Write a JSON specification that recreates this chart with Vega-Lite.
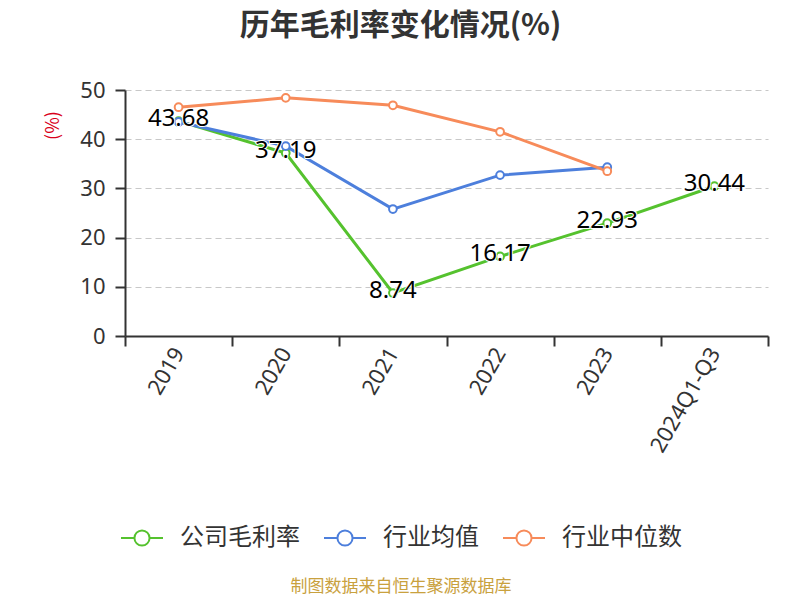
{
  "$schema": "https://vega.github.io/schema/vega-lite/v6.json",
  "width": 643,
  "height": 246,
  "autosize": {"type": "none"},
  "padding": {"left": 125, "top": 90, "right": 32, "bottom": 264},
  "background": "white",
  "title": {"text": "历年毛利率变化情况(%)", "fontSize": 30, "fontWeight": "bold", "color": "#333333", "font": "Noto Sans CJK SC", "anchor": "middle", "dx": -46, "offset": 38},
  "config": {"view": {"stroke": null}, "font": "Noto Sans CJK SC"},
  "data": {"values": [
    {"year": "2019", "series": "公司毛利率", "value": 43.68},
    {"year": "2020", "series": "公司毛利率", "value": 37.19},
    {"year": "2021", "series": "公司毛利率", "value": 8.74},
    {"year": "2022", "series": "公司毛利率", "value": 16.17},
    {"year": "2023", "series": "公司毛利率", "value": 22.93},
    {"year": "2024Q1-Q3", "series": "公司毛利率", "value": 30.44},
    {"year": "2019", "series": "行业均值", "value": 43.5},
    {"year": "2020", "series": "行业均值", "value": 38.6},
    {"year": "2021", "series": "行业均值", "value": 25.8},
    {"year": "2022", "series": "行业均值", "value": 32.7},
    {"year": "2023", "series": "行业均值", "value": 34.3},
    {"year": "2019", "series": "行业中位数", "value": 46.5},
    {"year": "2020", "series": "行业中位数", "value": 48.4},
    {"year": "2021", "series": "行业中位数", "value": 46.9},
    {"year": "2022", "series": "行业中位数", "value": 41.5},
    {"year": "2023", "series": "行业中位数", "value": 33.5}
  ]},
  "encoding": {
    "x": {
      "field": "year", "type": "ordinal", "sort": null, "bandPosition": 0.5,
      "scale": {"type": "band", "paddingInner": 0, "paddingOuter": 0},
      "axis": {"title": null, "labelAngle": -60, "labelFontSize": 22, "labelColor": "#333333", "labelFont": "Noto Sans", "tickBand": "extent", "tickSize": 10, "tickColor": "#333333", "tickWidth": 2, "domainColor": "#333333", "domainWidth": 2, "labelPadding": 3, "grid": false}
    },
    "y": {
      "field": "value", "type": "quantitative",
      "scale": {"domain": [0, 50], "nice": false},
      "axis": {"title": "(%)", "titleColor": "#d9001b", "titleFontSize": 18, "titleFontWeight": "normal", "titleX": -63, "titleY": 35, "titleAlign": "center", "values": [0, 10, 20, 30, 40, 50], "labelFontSize": 22, "labelColor": "#333333", "labelFont": "Noto Sans", "labelPadding": 10, "tickSize": 10, "tickColor": "#333333", "tickWidth": 2, "domainColor": "#333333", "domainWidth": 2, "gridColor": "#c8c8c8", "gridDash": [6, 4], "gridWidth": 1.2}
    }
  },
  "layer": [
    {
      "mark": {"type": "line", "strokeWidth": 3},
      "encoding": {
        "color": {
          "field": "series", "type": "nominal",
          "scale": {"domain": ["公司毛利率", "行业均值", "行业中位数"], "range": ["#55c22e", "#4d7fdc", "#f78b5a"]},
          "legend": {
            "orient": "none", "legendX": -5, "legendY": 426, "direction": "horizontal",
            "title": "制图数据来自恒生聚源数据库", "titleOrient": "bottom", "titleAnchor": "middle", "titleFontSize": 17, "titleFontWeight": "normal", "titleColor": "#c9a13e", "titlePadding": 29, "titleLimit": 600,
            "labelFontSize": 24, "labelColor": "#333333", "labelOffset": 16, "columnPadding": 20, "labelLimit": 300,
            "symbolType": "M-1,0L-0.36,0M0.36,0L1,0M0.36,0A0.36,0.36,0,1,1,-0.36,0A0.36,0.36,0,1,1,0.36,0Z",
            "symbolSize": 1764, "symbolStrokeWidth": 2, "symbolFillColor": "white"
          }
        }
      }
    },
    {
      "mark": {"type": "point", "filled": true, "fill": "white", "size": 60, "strokeWidth": 2, "opacity": 1},
      "encoding": {
        "stroke": {"field": "series", "type": "nominal", "scale": {"domain": ["公司毛利率", "行业均值", "行业中位数"], "range": ["#55c22e", "#4d7fdc", "#f78b5a"]}, "legend": null}
      }
    },
    {
      "transform": [{"filter": "datum.series === '公司毛利率'"}],
      "mark": {"type": "text", "fontSize": 24, "font": "Noto Sans", "stroke": "white", "strokeWidth": 2, "fill": "black", "dy": -2},
      "encoding": {"text": {"field": "value", "type": "quantitative", "format": ".2f"}}
    },
    {
      "transform": [{"filter": "datum.series === '公司毛利率'"}],
      "mark": {"type": "text", "fontSize": 24, "font": "Noto Sans", "fill": "black", "dy": -2},
      "encoding": {"text": {"field": "value", "type": "quantitative", "format": ".2f"}}
    }
  ]
}
